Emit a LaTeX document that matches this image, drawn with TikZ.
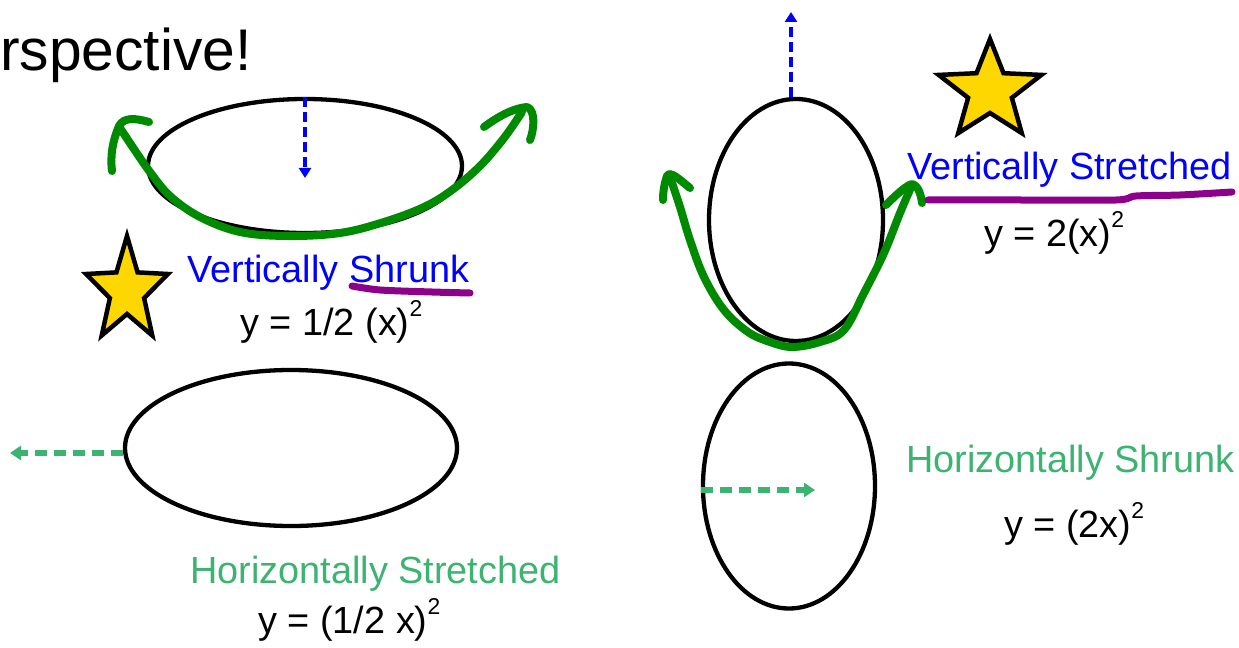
\documentclass[tikz,border=0pt]{standalone}
\usepackage{fontspec}
\setmainfont{Liberation Sans}
\usetikzlibrary{shapes.geometric,arrows.meta}
\definecolor{pblue}{RGB}{0,0,255}
\definecolor{lgreen}{RGB}{60,179,113}
\definecolor{dgreen}{RGB}{0,138,0}
\definecolor{ppurple}{RGB}{140,0,140}
\definecolor{sgold}{RGB}{255,215,0}
\newcommand\supTwo{\raisebox{19bp}{\fontsize{23}{23}\selectfont 2}}
\begin{document}
\begin{tikzpicture}[x=1bp,y=-1bp,
 ell/.style={ellipse, draw=black, line width=4.3bp, inner sep=0pt},
 lbl/.style={anchor=base west, inner sep=0pt, font=\fontsize{38}{44}\selectfont},
 ttlstyle/.style={anchor=base west, inner sep=0pt, font=\fontsize{59}{64}\selectfont},
 bluedash/.style={draw=pblue, line width=4bp, dash pattern=on 10bp off 5bp, -{Triangle[length=10bp,width=12bp]}},
 greendash/.style={draw=lgreen, line width=5.5bp, dash pattern=on 12bp off 7bp, -{Triangle[length=11bp,width=14bp]}},
 pen/.style={draw=dgreen, line width=8bp, line cap=round, line join=round},
 hilite/.style={draw=ppurple, line width=7bp, line cap=round, line join=round},
 starshape/.style={fill=sgold, draw=black, line width=4.5bp, line join=miter}
]
\fill[white] (0,0) rectangle (1239,648);
\useasboundingbox (0,0) rectangle (1239,648);

% title
\node[ttlstyle] (ttl) at (0,71) {rspective!};

% ellipses
\node[ell, minimum width=314bp, minimum height=134bp] (e1) at (305,166) {};
\node[ell, minimum width=332bp, minimum height=156bp] (e2) at (291,448) {};
\node[ell, minimum width=174bp, minimum height=242bp] (e3) at (796,220) {};
\node[ell, minimum width=172bp, minimum height=245bp] (e4) at (789,486) {};

% dashed arrows
\coordinate (b1e) at (305,178);
\draw[bluedash] (e1.north) -- (b1e);
\coordinate (b2e) at (791,12);
\draw[bluedash] (b2e |- e3.north) -- (b2e);
\coordinate (g1e) at (10,453);
\draw[greendash] (g1e -| e2.west) -- (g1e);
\coordinate (g2e) at (815,490);
\draw[greendash] (g2e -| e4.west) -- (g2e);

% green freehand arrows (left)
\draw[pen] plot[smooth, tension=0.6] coordinates {(120,128) (136,152) (150,172) (170,196) (200,217) (240,232) (288,236) (340,233) (384,222) (424,207) (452,190) (480,166) (504,138) (522,112)};
\draw[pen] (149,122) .. controls (135,118) and (124,117) .. (119,126) .. controls (113,140) and (110,155) .. (112,171);
\draw[pen] (484,127) .. controls (500,115) and (515,108) .. (527,107) .. controls (536,110) and (534,130) .. (530,140);

% green freehand arrows (right)
\draw[pen] plot[smooth, tension=0.6] coordinates {(671,180) (680,207) (690,240) (704,277) (724,310) (748,332) (770,342) (792,347) (820,342) (844,330) (864,293) (884,253) (900,213) (912,185)};
\draw[pen] (690,188) .. controls (680,180) and (670,170) .. (667,176) .. controls (664,185) and (663,192) .. (663,200);
\draw[pen] (886,205) .. controls (893,198) and (905,186) .. (912,184) .. controls (919,186) and (921,196) .. (922,203);

% purple underlines
\draw[hilite] plot[smooth] coordinates {(352,286) (380,290) (432,292) (470,293)};
\draw[hilite] plot[smooth] coordinates {(928,200) (1020,200) (1116,200) (1136,196) (1180,195) (1232,192)};

% stars
\coordinate (s1) at (127,291);
\draw[starshape] (s1) +(270:43 and 55) -- +(306:18 and 23) -- +(342:43 and 55) -- +(18:18 and 23) -- +(54:43 and 55) -- +(90:18 and 23) -- +(126:43 and 55) -- +(162:18 and 23) -- +(198:43 and 55) -- +(234:18 and 23) -- cycle;
\coordinate (s2) at (990,91);
\draw[starshape] (s2) +(270:54 and 52) -- +(306:23 and 22) -- +(342:54 and 52) -- +(18:23 and 22) -- +(54:54 and 52) -- +(90:23 and 22) -- +(126:54 and 52) -- +(162:23 and 22) -- +(198:54 and 52) -- +(234:23 and 22) -- cycle;

% labels
\node[lbl, text=pblue] (vs) at (187,283) {Vertically Shrunk};
\node[lbl] (eq1) at (240,336) {y = 1/2 (x)\supTwo};
\node[lbl, text=lgreen] (hs) at (190,583) {Horizontally Stretched};
\node[lbl] (eq2) at (258,633) {y = (1/2 x)\supTwo};
\node[lbl, text=pblue] (vst) at (907,180) {Vertically Stretched};
\node[lbl] (eq3) at (984,247) {y = 2(x)\supTwo};
\node[lbl, text=lgreen] (hsh) at (906,472) {Horizontally Shrunk};
\node[lbl] (eq4) at (1004,537) {y = (2x)\supTwo};
\end{tikzpicture}
\end{document}
